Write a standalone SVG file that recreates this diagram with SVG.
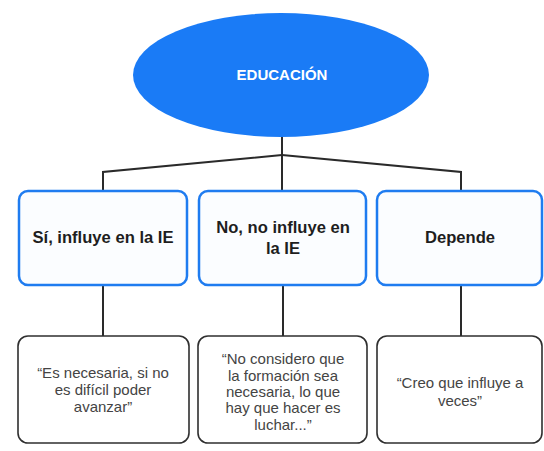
<svg xmlns="http://www.w3.org/2000/svg" width="544" height="451" viewBox="0 0 544 451">
<style>
.cat rect{fill:#fbfdff;stroke:#1f7cf0;stroke-width:2.5}
.cat text{font-family:"Liberation Sans",Arial,sans-serif;font-weight:bold;font-size:16.6px;fill:#1e1e1e;text-anchor:middle}
.quote rect{fill:#ffffff;stroke:#2f2f2f;stroke-width:1.6}
.quote text{font-family:"Liberation Sans",Arial,sans-serif;font-size:15px;fill:#444;text-anchor:middle}
.conn{fill:none;stroke:#2a2a2a;stroke-width:2}
</style>
<rect width="544" height="451" fill="#ffffff"/>
<g id="connectors">
<path class="conn" d="M282,137 V191"/>
<path class="conn" d="M282,155 L103,172 V191"/>
<path class="conn" d="M282,155 L461,172 V191"/>
<path class="conn" d="M103,285 V336"/>
<path class="conn" d="M283,285 V336"/>
<path class="conn" d="M461,285 V336"/>
</g>
<g id="educacion">
<ellipse cx="281" cy="75" rx="148" ry="62" fill="#1a7bf6"/>
<text x="282" y="80" font-family="'Liberation Sans',Arial,sans-serif" font-weight="bold" font-size="15" fill="#ffffff" text-anchor="middle">EDUCACIÓN</text>
</g>
<g id="si" class="cat">
<rect x="19" y="191" width="168" height="94" rx="9"/>
<text x="103" y="243">Sí, influye en la IE</text>
</g>
<g id="no" class="cat">
<rect x="199" y="191" width="167" height="94" rx="9"/>
<text x="283" y="233">No, no influye en</text>
<text x="283" y="254">la IE</text>
</g>
<g id="depende" class="cat">
<rect x="377" y="191" width="165" height="94" rx="9"/>
<text x="460" y="243">Depende</text>
</g>
<g id="q1" class="quote">
<rect x="18" y="336" width="171" height="107" rx="10"/>
<text x="103" y="378">“Es necesaria, si no</text>
<text x="103" y="395">es difícil poder</text>
<text x="103" y="412">avanzar”</text>
</g>
<g id="q2" class="quote">
<rect x="198" y="336" width="169" height="107" rx="10"/>
<text x="283" y="364">“No considero que</text>
<text x="283" y="381">la formación sea</text>
<text x="283" y="397">necesaria, lo que</text>
<text x="283" y="413">hay que hacer es</text>
<text x="283" y="430">luchar...”</text>
</g>
<g id="q3" class="quote">
<rect x="377" y="336" width="165" height="107" rx="10"/>
<text x="460" y="388">“Creo que influye a</text>
<text x="460" y="406">veces”</text>
</g>
</svg>
